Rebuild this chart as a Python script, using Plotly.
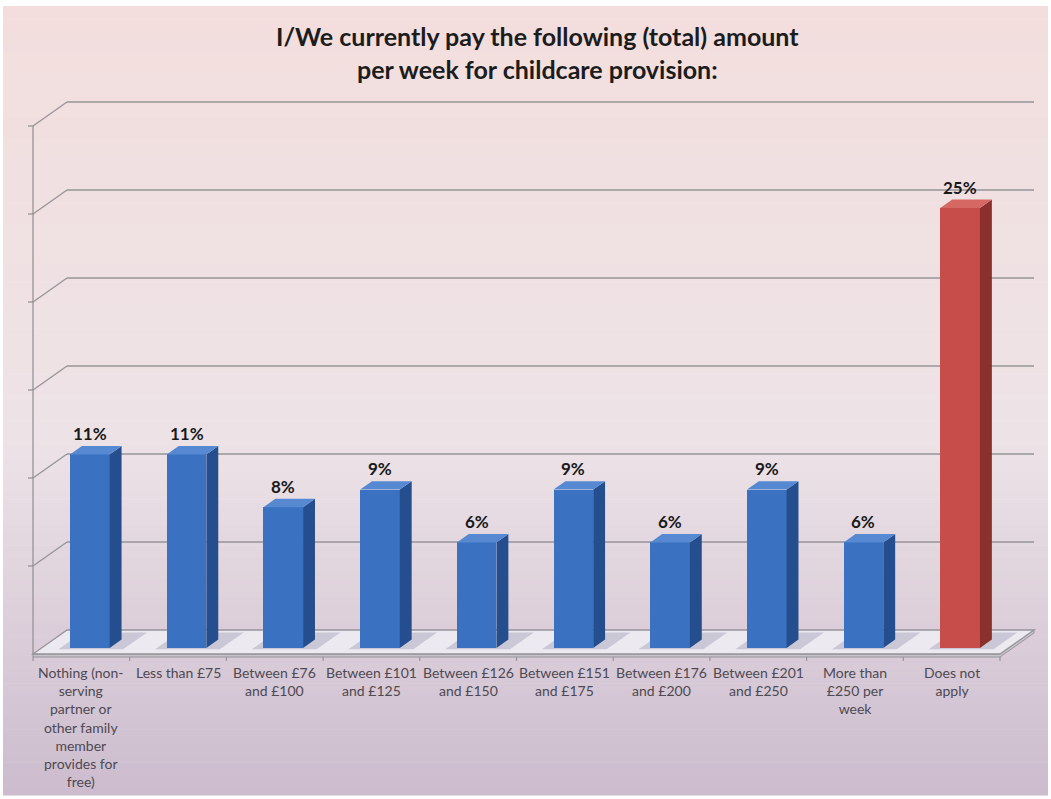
import plotly.graph_objects as go

# ---- data -------------------------------------------------------------
categories = [
    "Nothing (non-<br>serving<br>partner or<br>other family<br>member<br>provides for<br>free)",
    "Less than £75",
    "Between £76<br>and £100",
    "Between £101<br>and £125",
    "Between £126<br>and £150",
    "Between £151<br>and £175",
    "Between £176<br>and £200",
    "Between £201<br>and £250",
    "More than<br>£250 per<br>week",
    "Does not<br>apply",
]
percent = [11, 11, 8, 9, 6, 9, 6, 9, 6, 25]
gridline_values = [5, 10, 15, 20, 25, 30]
title_text = "I/We currently pay the following (total) amount<br>per week for childcare provision:"

# ---- geometry / style -------------------------------------------------
W, H = 1051, 799
X0_PX, CAT_PX = 33.0, 96.7      # left front corner of the floor, pixels per category
Y0_PX, PCT_PX = 654.0, 17.6     # floor front line, pixels per percentage point
X_RANGE = [-0.5 - X0_PX / CAT_PX, -0.5 + (W - X0_PX) / CAT_PX]
Y_RANGE = [-(H - Y0_PX) / PCT_PX, Y0_PX / PCT_PX]

# oblique depth vector (front -> back wall) in data units
DX = 34.0 / CAT_PX
DY = 24.0 / PCT_PX
BAR_FRONT = 0.25   # depth of the bar's front face
BAR_DEPTH = 0.35   # depth of each bar
BAR_W = 0.41
Y_MAX = gridline_values[-1]

GRID = "rgb(150,148,152)"
BLUE = dict(front="rgb(58,113,192)", side="rgb(36,78,142)", top="rgb(86,137,210)")
RED = dict(front="rgb(198,77,73)", side="rgb(140,48,46)", top="rgb(214,104,100)")
face_colors = [BLUE] * (len(percent) - 1) + [RED]
n = len(percent)


def px_to_paper_y(py):
    return 1 - py / H


def px_to_paper_x(px):
    return px / W


def poly_path(xs, ys):
    pts = " L".join(f"{x:.5f},{y:.5f}" for x, y in zip(xs, ys))
    return f"M{pts} Z"


fig = go.Figure()
shapes = []

# background: vertical gradient from soft pink to lavender
stops = [(0.0, (243, 222, 221)), (0.55, (237, 227, 231)), (1.0, (204, 188, 206))]


def grad(t):
    for (t0, c0), (t1, c1) in zip(stops[:-1], stops[1:]):
        if t <= t1:
            f = (t - t0) / (t1 - t0)
            return tuple(round(a + (b - a) * f) for a, b in zip(c0, c1))
    return stops[-1][1]


top_px, bot_px, strips = 6, 795, 120
for k in range(strips):
    y_a = top_px + (bot_px - top_px) * k / strips
    y_b = top_px + (bot_px - top_px) * (k + 1) / strips + 0.6
    r, g, b = grad(k / (strips - 1))
    shapes.append(dict(type="rect", xref="paper", yref="paper", layer="below",
                       x0=px_to_paper_x(3), x1=px_to_paper_x(W - 3),
                       y0=px_to_paper_y(y_b), y1=px_to_paper_y(y_a),
                       fillcolor=f"rgb({r},{g},{b})", line_width=0))

# back-wall gridlines and left-wall diagonals
for v in gridline_values:
    shapes.append(dict(type="line", xref="x", yref="y", layer="below",
                       x0=-0.5 + DX, y0=v + DY, x1=n - 0.5 + DX, y1=v + DY,
                       line=dict(color=GRID, width=1.3)))
    shapes.append(dict(type="line", xref="x", yref="y", layer="below",
                       x0=-0.5, y0=v, x1=-0.5 + DX, y1=v + DY,
                       line=dict(color=GRID, width=1.3)))
    shapes.append(dict(type="line", xref="x", yref="y", layer="below",
                       x0=-0.5 - 5 / CAT_PX, y0=v, x1=-0.5, y1=v,
                       line=dict(color=GRID, width=1.3)))
# front value axis
shapes.append(dict(type="line", xref="x", yref="y", layer="below",
                   x0=-0.5, y0=0, x1=-0.5, y1=Y_MAX,
                   line=dict(color=GRID, width=1.3)))

# floor slab (thin edge first, then the top surface)
slab = 3 / PCT_PX
shapes.append(dict(type="path", xref="x", yref="y", layer="below",
                   path=poly_path([-0.5, n - 0.5, n - 0.5 + DX, n - 0.5 + DX, n - 0.5, -0.5],
                                  [0, 0, DY, DY - slab, -slab, -slab]),
                   fillcolor="rgb(200,196,206)", line=dict(color=GRID, width=1)))
shapes.append(dict(type="path", xref="x", yref="y", layer="below",
                   path=poly_path([-0.5, n - 0.5, n - 0.5 + DX, -0.5 + DX],
                                  [0, 0, DY, DY]),
                   fillcolor="rgb(236,233,240)", line=dict(color=GRID, width=1.3)))
# category boundary ticks on the floor edge
for k in range(n + 1):
    shapes.append(dict(type="line", xref="x", yref="y", layer="below",
                       x0=k - 0.5, y0=-slab, x1=k - 0.5, y1=-slab - 4 / PCT_PX,
                       line=dict(color=GRID, width=1.2)))

# soft floor shadows around the bar bases
for i in range(n):
    xl = i - BAR_W / 2 + BAR_FRONT * DX
    d0, d1 = BAR_FRONT - 0.05, min(BAR_FRONT + BAR_DEPTH + 0.3, 1.0)
    sx = [xl - 0.12, xl + BAR_W + 0.14, xl + BAR_W + 0.14 + (d1 - d0) * DX,
          xl - 0.12 + (d1 - d0) * DX]
    sy = [d0 * DY, d0 * DY, d1 * DY, d1 * DY]
    shapes.append(dict(type="path", xref="x", yref="y", layer="below",
                       path=poly_path(sx, sy),
                       fillcolor="rgba(140,140,170,0.35)", line_width=0))

# bar front faces
bar_x = [i + BAR_FRONT * DX for i in range(n)]
fig.add_trace(go.Bar(x=bar_x, y=percent, base=BAR_FRONT * DY, width=BAR_W,
                     marker=dict(color=[c["front"] for c in face_colors], line_width=0),
                     hoverinfo="skip", showlegend=False))

# side and top faces + value labels
annotations = []
for i, v in enumerate(percent):
    xl = bar_x[i] - BAR_W / 2
    xr = bar_x[i] + BAR_W / 2
    y0 = BAR_FRONT * DY
    y1 = v + BAR_FRONT * DY
    ddx, ddy = BAR_DEPTH * DX, BAR_DEPTH * DY
    c = face_colors[i]
    fig.add_trace(go.Scatter(x=[xr, xr + ddx, xr + ddx, xr, xr],
                             y=[y0, y0 + ddy, y1 + ddy, y1, y0],
                             mode="lines", fill="toself", fillcolor=c["side"],
                             line_width=0, hoverinfo="skip", showlegend=False))
    fig.add_trace(go.Scatter(x=[xl, xr, xr + ddx, xl + ddx, xl],
                             y=[y1, y1, y1 + ddy, y1 + ddy, y1],
                             mode="lines", fill="toself", fillcolor=c["top"],
                             line_width=0, hoverinfo="skip", showlegend=False))
    annotations.append(dict(x=bar_x[i], y=y1 + ddy, xref="x", yref="y",
                            text=f"<b>{v}%</b>", showarrow=False, yanchor="bottom",
                            font=dict(family="Lato", size=17, color="rgb(25,25,25)")))

# category labels under the floor
for i, label in enumerate(categories):
    annotations.append(dict(x=i, y=0, xref="x", yref="y", text=label,
                            showarrow=False, yanchor="top", yshift=-8,
                            align="center",
                            font=dict(family="Lato", size=14, color="rgb(78,73,82)")))

# chart title
annotations.append(dict(x=px_to_paper_x(537), y=px_to_paper_y(52), xref="paper", yref="paper",
                        text=f"<b>{title_text}</b>", showarrow=False,
                        xanchor="center", yanchor="middle", align="center",
                        font=dict(family="Lato", size=25, color="rgb(28,28,28)")))

fig.update_layout(
    width=W, height=H,
    margin=dict(l=0, r=0, t=0, b=0),
    paper_bgcolor="white",
    plot_bgcolor="rgba(0,0,0,0)",
    xaxis=dict(range=X_RANGE, visible=False, fixedrange=True),
    yaxis=dict(range=Y_RANGE, visible=False, fixedrange=True),
    shapes=shapes,
    annotations=annotations,
    bargap=0,
)

fig.write_html("out.html")
